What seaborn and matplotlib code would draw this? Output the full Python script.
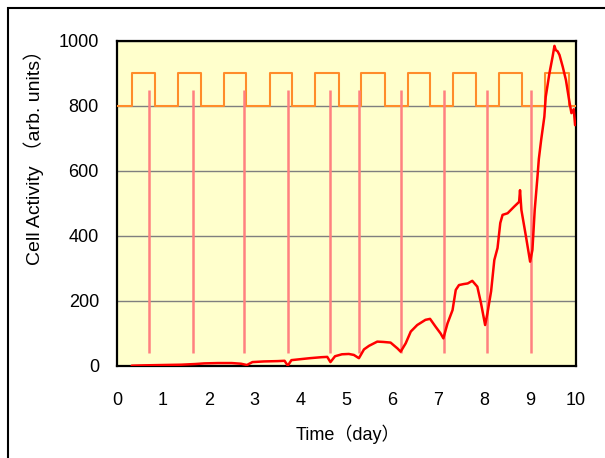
import numpy as np
import pandas as pd
import seaborn as sns
import matplotlib.pyplot as plt
from matplotlib.patches import Rectangle

# %% data
# cell activity curve (day, arb. units)
day = [0.32, 0.6, 1.0, 1.4, 1.7, 1.9, 2.2, 2.5, 2.7, 2.83, 2.95, 3.2, 3.5, 3.65, 3.72,
       3.8, 4.0, 4.2, 4.45, 4.58, 4.65, 4.75, 4.9, 5.05, 5.16, 5.27, 5.38, 5.49, 5.67,
       5.8, 5.96, 6.11, 6.18, 6.29, 6.4, 6.54, 6.72, 6.82, 6.94, 7.05, 7.11, 7.2, 7.31,
       7.38, 7.45, 7.55, 7.64, 7.74, 7.85, 7.93, 8.02, 8.07, 8.15, 8.22, 8.29, 8.35,
       8.4, 8.51, 8.65, 8.76, 8.78, 8.81, 8.91, 9.0, 9.05, 9.1, 9.16, 9.19, 9.24, 9.31,
       9.34, 9.42, 9.49, 9.53, 9.56, 9.6, 9.64, 9.71, 9.78, 9.85, 9.9, 9.95, 9.98, 10.0]
activity = [1, 2, 3, 4, 6, 8, 9, 9, 7, 3, 12, 14, 15, 16, 1,
            18, 21, 24, 27, 28, 12, 30, 36, 37, 34, 24, 51, 62, 75,
            74, 72, 54, 44, 70, 106, 126, 142, 145, 121, 100, 85, 131, 172,
            234, 249, 252, 254, 262, 244, 193, 126, 162, 230, 326, 363, 440,
            465, 470, 490, 505, 541, 480, 398, 321, 357, 480, 582, 637, 695, 767,
            828, 900, 952, 985, 972, 968, 957, 921, 880, 818, 778, 790, 741, 750]

# light on/off (square wave between 800 and 900)
light_on = [0.32, 1.32, 2.33, 3.33, 4.32, 5.32, 6.33, 7.33, 8.33, 9.32]
light_off = [0.82, 1.82, 2.82, 3.82, 4.83, 5.83, 6.82, 7.83, 8.83, 9.84]
light_low, light_high = 800, 900

# feeding / treatment marks
marks = [0.69, 1.65, 2.77, 3.73, 4.65, 5.27, 6.18, 7.13, 8.06, 9.02]
mark_bottom, mark_top = 40, 850

# %% build step signal
wave_x = [0]
wave_y = [light_low]
for on, off in zip(light_on, light_off):
    wave_x += [on, off]
    wave_y += [light_high, light_low]
wave_x.append(10)
wave_y.append(light_low)

df = pd.DataFrame({"day": day, "activity": activity})

# %% plot
sns.set_theme(style="white")
plt.rcParams["font.family"] = ["Liberation Sans", "Noto Sans CJK JP", "DejaVu Sans"]
plt.rcParams["text.color"] = "black"
plt.rcParams["axes.labelcolor"] = "black"
plt.rcParams["xtick.labelcolor"] = "black"
plt.rcParams["ytick.labelcolor"] = "black"

fig = plt.figure(figsize=(6.05, 4.58), dpi=100)
ax = fig.add_axes([0.1934, 0.2009, 0.7587, 0.7096])
ax.set_facecolor("#FFFFCC")

ax.grid(axis="y", color="#7f7f7f", linewidth=1)
ax.set_axisbelow(True)

ax.step(wave_x, wave_y, where="post", color="#FF8C2A", linewidth=1.5, zorder=3)
ax.vlines(marks, mark_bottom, mark_top, color="#FF8080", linewidth=1.8, zorder=3)
sns.lineplot(data=df, x="day", y="activity", color="#FF0000", linewidth=1.8,
             ax=ax, zorder=4)

ax.set_xlim(0, 10)
ax.set_ylim(0, 1000)
ax.set_xticks(range(0, 11))
ax.set_yticks(range(0, 1001, 200))
ax.tick_params(axis="x", direction="in", length=5, width=1, color="#555555",
               pad=19, labelsize=13)
ax.tick_params(axis="y", length=0, pad=13, labelsize=13)
for s in ax.spines.values():
    s.set_color("black")
    s.set_linewidth(1.6)

ax.set_xlabel("Time（day）", fontsize=13)
ax.set_ylabel("Cell Activity （arb. units）", fontsize=14)
ax.xaxis.set_label_coords(0.503, -0.18)
ax.yaxis.set_label_coords(-0.159, 0.655)

# outer frame of the original figure
fig.patches.append(Rectangle((8 / 605, -0.2), 2, 1 - 8 / 458 + 0.2,
                             transform=fig.transFigure, fill=False,
                             edgecolor="black", linewidth=1.5))

fig.savefig("out.png", dpi=100)
